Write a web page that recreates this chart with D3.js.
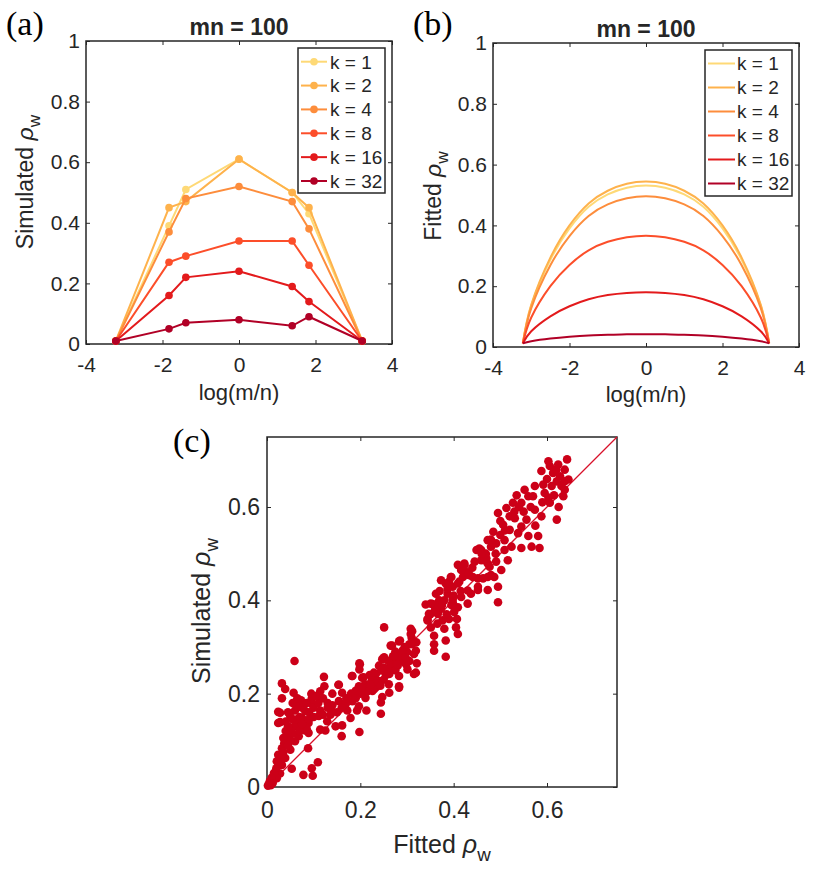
<!DOCTYPE html>
<html>
<head>
<meta charset="utf-8">
<script src="https://cdn.jsdelivr.net/npm/d3@7"></script>
<style>
body { margin: 0; background: #fff; }
svg { display: block; }
text { font-family: "Liberation Sans", Arial, sans-serif; fill: #262626; }
</style>
</head>
<body>
<svg id="fig" width="831" height="870"></svg>
<script>
// ---- data ----
var logRatio = [-3.22, -1.83, -1.39, 0, 1.39, 1.83, 3.22];
var kLabels = ["k = 1", "k = 2", "k = 4", "k = 8", "k = 16", "k = 32"];
var kColors = ["#fed976", "#feb24c", "#fd8d3c", "#fc4e2a", "#e31a1c", "#b10026"];

// (a) simulated rho_w
var simK1  = [0.01, 0.39, 0.51, 0.61, 0.50, 0.43, 0.01];
var simK2  = [0.01, 0.45, 0.47, 0.61, 0.50, 0.45, 0.01];
var simK4  = [0.01, 0.37, 0.48, 0.52, 0.47, 0.38, 0.01];
var simK8  = [0.01, 0.27, 0.29, 0.34, 0.34, 0.26, 0.01];
var simK16 = [0.01, 0.16, 0.22, 0.24, 0.19, 0.14, 0.01];
var simK32 = [0.01, 0.05, 0.07, 0.08, 0.06, 0.09, 0.01];
var simSeries = [simK1, simK2, simK4, simK8, simK16, simK32];

// (b) fitted rho_w, read at these log(m/n) values
var fitGrid = [-3.22, -3, -2.5, -2, -1.5, -1, -0.5, 0, 0.5, 1, 1.5, 2, 2.5, 3, 3.22];
var fitK1  = [0.012, 0.136, 0.287, 0.390, 0.461, 0.502, 0.524, 0.531, 0.524, 0.502, 0.461, 0.390, 0.287, 0.136, 0.012];
var fitK2  = [0.012, 0.139, 0.294, 0.400, 0.472, 0.514, 0.537, 0.544, 0.537, 0.514, 0.472, 0.400, 0.294, 0.139, 0.012];
var fitK4  = [0.012, 0.128, 0.269, 0.365, 0.431, 0.469, 0.489, 0.496, 0.489, 0.469, 0.431, 0.365, 0.269, 0.128, 0.012];
var fitK8  = [0.012, 0.097, 0.200, 0.270, 0.318, 0.346, 0.361, 0.366, 0.361, 0.346, 0.318, 0.270, 0.200, 0.097, 0.012];
var fitK16 = [0.012, 0.052, 0.101, 0.134, 0.157, 0.171, 0.178, 0.180, 0.178, 0.171, 0.157, 0.134, 0.101, 0.052, 0.012];
var fitK32 = [0.012, 0.019, 0.028, 0.034, 0.038, 0.040, 0.042, 0.042, 0.042, 0.040, 0.038, 0.034, 0.028, 0.019, 0.012];
var fitSeries = [fitK1, fitK2, fitK4, fitK8, fitK16, fitK32];

var logTicks = [-4, -2, 0, 2, 4];
var rhoTicks = [0, 0.2, 0.4, 0.6, 0.8, 1];
var cTicks = [0, 0.2, 0.4, 0.6];

// (c) [fitted, simulated] pairs
var fitSim = [
  [0.251,0.342],[0.311,0.334],[0.344,0.357],[0.265,0.303],[0.283,0.312],[0.305,0.306],[0.319,0.292],[0.059,0.270],
  [0.198,0.265],[0.251,0.278],[0.276,0.270],[0.298,0.263],[0.319,0.245],[0.183,0.238],[0.204,0.234],[0.233,0.242],
  [0.262,0.242],[0.122,0.236],[0.032,0.222],[0.154,0.219],[0.123,0.216],[0.114,0.205],[0.197,0.216],[0.219,0.220],
  [0.240,0.227],[0.283,0.216],[0.039,0.210],[0.057,0.202],[0.161,0.202],[0.190,0.206],[0.226,0.206],[0.262,0.202],
  [0.032,0.190],[0.073,0.186],[0.096,0.190],[0.154,0.184],[0.183,0.184],[0.211,0.191],[0.247,0.193],[0.066,0.176],
  [0.096,0.178],[0.168,0.177],[0.197,0.173],[0.244,0.181],[0.024,0.161],[0.060,0.164],[0.082,0.163],[0.114,0.164],
  [0.139,0.163],[0.172,0.164],[0.193,0.164],[0.213,0.164],[0.244,0.157],[0.050,0.151],[0.075,0.148],[0.111,0.152],
  [0.136,0.155],[0.179,0.148],[0.024,0.137],[0.068,0.141],[0.089,0.137],[0.129,0.141],[0.147,0.130],[0.161,0.132],
  [0.053,0.127],[0.082,0.121],[0.114,0.123],[0.125,0.121],[0.198,0.118],[0.042,0.109],[0.068,0.109],[0.089,0.116],
  [0.160,0.109],[0.037,0.094],[0.060,0.098],[0.032,0.083],[0.050,0.080],[0.088,0.083],[0.024,0.069],[0.039,0.062],
  [0.021,0.055],[0.032,0.047],[0.109,0.053],[0.096,0.040],[0.053,0.039],[0.028,0.029],[0.017,0.022],[0.078,0.026],
  [0.098,0.024],[0.006,0.012],[0.002,0.003],[0.014,0.015],[0.021,0.019],[0.040,0.120],[0.050,0.100],[0.060,0.130],
  [0.070,0.150],[0.080,0.140],[0.045,0.090],[0.055,0.115],[0.065,0.145],[0.035,0.075],[0.030,0.060],[0.025,0.050],
  [0.020,0.040],[0.015,0.030],[0.010,0.020],[0.090,0.160],[0.100,0.170],[0.110,0.180],[0.075,0.170],[0.085,0.125],
  [0.028,0.159],[0.028,0.139],[0.220,0.240],[0.240,0.260],[0.260,0.250],[0.270,0.280],[0.250,0.230],[0.230,0.210],
  [0.210,0.220],[0.280,0.260],[0.290,0.270],[0.300,0.290],[0.260,0.270],[0.200,0.200],[0.004,0.006],[0.008,0.004],
  [0.012,0.008],
  [0.045,0.160],[0.055,0.180],[0.065,0.190],[0.085,0.180],[0.095,0.200],[0.105,0.195],[0.120,0.190],[0.130,0.180],
  [0.140,0.175],[0.035,0.105],[0.045,0.130],[0.055,0.145],[0.040,0.140],[0.070,0.120],[0.075,0.135],[0.090,0.145],
  [0.100,0.150],[0.120,0.155],[0.130,0.170],[0.150,0.160],[0.160,0.170],[0.170,0.190],[0.180,0.200],[0.190,0.190],
  [0.140,0.200],[0.215,0.205],[0.235,0.215],[0.255,0.240],[0.265,0.260],[0.275,0.250],[0.285,0.280],[0.295,0.300],
  [0.305,0.270],[0.245,0.250],[0.225,0.230],[0.275,0.290],[0.310,0.320],[0.320,0.310],
  [0.153,0.219],[0.182,0.238],[0.199,0.263],[0.198,0.252],[0.207,0.235],[0.229,0.245],[0.236,0.227],[0.247,0.274],
  [0.250,0.256],[0.261,0.245],[0.268,0.303],[0.272,0.281],[0.279,0.263],[0.283,0.238],[0.285,0.314],[0.290,0.292],
  [0.297,0.278],[0.301,0.252],[0.308,0.328],[0.311,0.306],[0.315,0.285],[0.315,0.242],[0.321,0.265],[0.308,0.339],
  [0.243,0.217],[0.203,0.213],[0.221,0.220],[0.261,0.220],[0.283,0.213],[0.340,0.391],[0.347,0.371],[0.344,0.360],
  [0.351,0.342],[0.358,0.324],[0.358,0.306],[0.358,0.292],[0.369,0.400],[0.373,0.382],[0.376,0.357],[0.380,0.339],
  [0.383,0.314],[0.383,0.279],[0.383,0.436],[0.387,0.414],[0.394,0.450],[0.398,0.429],[0.398,0.396],[0.401,0.375],
  [0.405,0.342],[0.409,0.328],[0.407,0.360],[0.412,0.440],[0.416,0.407],[0.409,0.385],[0.362,0.389],[0.409,0.476],
  [0.423,0.479],[0.434,0.454],[0.437,0.414],[0.452,0.447],[0.452,0.422],[0.455,0.511],[0.459,0.486],[0.469,0.500],
  [0.473,0.479],[0.473,0.422],[0.480,0.454],[0.491,0.522],[0.495,0.429],[0.495,0.396],[0.355,0.392],[0.366,0.371],
  [0.365,0.350],[0.370,0.420],[0.390,0.360],[0.390,0.440],[0.400,0.410],[0.360,0.380],[0.375,0.390],[0.385,0.370],
  [0.395,0.390],[0.350,0.370],[0.415,0.420],[0.420,0.450],[0.430,0.460],[0.440,0.470],
  [0.351,0.393],[0.362,0.414],[0.380,0.400],[0.387,0.425],[0.395,0.450],[0.398,0.403],[0.409,0.436],[0.416,0.465],
  [0.430,0.421],[0.423,0.475],[0.441,0.450],[0.445,0.483],[0.449,0.508],[0.452,0.429],[0.463,0.447],[0.459,0.508],
  [0.466,0.486],[0.473,0.529],[0.477,0.472],[0.480,0.515],[0.485,0.547],[0.487,0.450],[0.495,0.587],[0.502,0.465],
  [0.506,0.562],[0.509,0.529],[0.513,0.598],[0.516,0.486],[0.520,0.551],[0.524,0.515],[0.527,0.609],[0.531,0.576],
  [0.538,0.544],[0.545,0.609],[0.545,0.512],[0.552,0.637],[0.556,0.573],[0.560,0.538],[0.567,0.515],[0.570,0.623],
  [0.574,0.594],[0.574,0.645],[0.581,0.538],[0.584,0.512],[0.588,0.580],[0.588,0.677],[0.592,0.648],[0.603,0.698],
  [0.606,0.688],[0.603,0.620],[0.606,0.609],[0.610,0.645],[0.621,0.573],[0.624,0.691],[0.628,0.666],[0.631,0.645],
  [0.635,0.623],[0.638,0.655],[0.643,0.702],[0.638,0.680],[0.646,0.659],[0.638,0.637],[0.621,0.655],[0.613,0.673],
  [0.595,0.630],[0.560,0.623],[0.545,0.558],[0.509,0.508],[0.491,0.483],[0.473,0.450],[0.373,0.443],[0.401,0.386],
  [0.430,0.393],
  [0.470,0.490],[0.490,0.500],[0.500,0.540],[0.510,0.550],[0.520,0.580],[0.530,0.590],[0.540,0.600],[0.550,0.590],
  [0.500,0.570],[0.460,0.500],[0.480,0.530],[0.535,0.625],[0.565,0.600],[0.575,0.560],[0.590,0.610],[0.600,0.660],
  [0.615,0.625],[0.625,0.600],[0.620,0.680]
];

// ---- drawing ----
var svg = d3.select("#fig");
var ink = "#262626";
var fmt = function (d) { return String(d); };

function styleAxis(sel, fs) {
  sel.select(".domain").remove();
  sel.selectAll("line").attr("stroke", ink).attr("stroke-width", 1);
  sel.selectAll("text").attr("fill", ink)
    .style("font-size", fs + "px")
    .style("font-family", '"Liberation Sans", Arial, sans-serif');
}

function frame(box, x, y, xt, yt, fs, xPad, yPad) {
  var g = svg.append("g");
  g.append("g").attr("transform", "translate(0," + box.bottom + ")")
    .call(d3.axisBottom(x).tickValues(xt).tickSize(-4).tickPadding(xPad).tickFormat(fmt))
    .call(styleAxis, fs);
  g.append("g").attr("transform", "translate(0," + box.top + ")")
    .call(d3.axisTop(x).tickValues(xt).tickSize(-4).tickFormat(""))
    .call(styleAxis, fs);
  g.append("g").attr("transform", "translate(" + box.left + ",0)")
    .call(d3.axisLeft(y).tickValues(yt).tickSize(-4).tickPadding(yPad).tickFormat(fmt))
    .call(styleAxis, fs);
  g.append("g").attr("transform", "translate(" + box.right + ",0)")
    .call(d3.axisRight(y).tickValues(yt).tickSize(-4).tickFormat(""))
    .call(styleAxis, fs);
  g.append("rect")
    .attr("x", box.left).attr("y", box.top)
    .attr("width", box.right - box.left).attr("height", box.bottom - box.top)
    .attr("fill", "none").attr("stroke", ink).attr("stroke-width", 1.5);
}

// label with italic rho and subscript w
function rhoText(t, prefix, fs) {
  t.style("font-size", fs + "px");
  t.append("tspan").text(prefix);
  t.append("tspan").style("font-style", "italic").text("\u03C1");
  t.append("tspan").style("font-size", (fs * 0.75) + "px").attr("dy", fs * 0.32).text("w");
}

function panelLetter(x, y, s) {
  svg.append("text").attr("x", x).attr("y", y).text(s)
    .style("font-family", '"Liberation Serif", "Times New Roman", serif')
    .style("font-size", "34px").style("fill", "#000");
}

function legend(box, rowY0, rowStep, lx1, lx2, tx, withMarkers) {
  var g = svg.append("g");
  g.append("rect").attr("x", box.x).attr("y", box.y).attr("width", box.w).attr("height", box.h)
    .attr("fill", "#fff").attr("stroke", ink).attr("stroke-width", 1.5);
  kLabels.forEach(function (lab, i) {
    var yy = rowY0 + i * rowStep;
    g.append("line").attr("x1", lx1).attr("x2", lx2).attr("y1", yy).attr("y2", yy)
      .attr("stroke", kColors[i]).attr("stroke-width", 2);
    if (withMarkers) {
      g.append("circle").attr("cx", (lx1 + lx2) / 2).attr("cy", yy).attr("r", 3.8).attr("fill", kColors[i]);
    }
    g.append("text").attr("x", tx).attr("y", yy).attr("dy", "0.36em").text(lab).style("font-size", "19px");
  });
}

// ----- panel (a) -----
var boxA = { left: 86, right: 392, top: 41, bottom: 344 };
var xA = d3.scaleLinear().domain([-4, 4]).range([boxA.left, boxA.right]);
var yA = d3.scaleLinear().domain([0, 1]).range([boxA.bottom, boxA.top]);
frame(boxA, xA, yA, logTicks, rhoTicks, 21, 13, 6);

var lineA = d3.line().x(function (d, i) { return xA(logRatio[i]); }).y(function (d) { return yA(d); });
simSeries.forEach(function (s, k) {
  var g = svg.append("g");
  g.append("path").attr("d", lineA(s)).attr("fill", "none").attr("stroke", kColors[k]).attr("stroke-width", 2);
  g.selectAll("circle").data(s).enter().append("circle")
    .attr("cx", function (d, i) { return xA(logRatio[i]); })
    .attr("cy", function (d) { return yA(d); })
    .attr("r", 3.8).attr("fill", kColors[k]);
});
legend({ x: 298, y: 48, w: 87, h: 145 }, 61.7, 23.86, 301, 327, 330, true);

svg.append("text").attr("x", 239).attr("y", 35).attr("text-anchor", "middle")
  .style("font-size", "23px").style("font-weight", "bold").text("mn = 100");
svg.append("text").attr("x", 239).attr("y", 400).attr("text-anchor", "middle")
  .style("font-size", "22px").text("log(m/n)");
svg.append("text").attr("transform", "translate(33,182) rotate(-90)").attr("text-anchor", "middle")
  .call(rhoText, "Simulated ", 23);
panelLetter(6, 35, "(a)");

// ----- panel (b) -----
var boxB = { left: 493, right: 799, top: 43, bottom: 347 };
var xB = d3.scaleLinear().domain([-4, 4]).range([boxB.left, boxB.right]);
var yB = d3.scaleLinear().domain([0, 1]).range([boxB.bottom, boxB.top]);
frame(boxB, xB, yB, logTicks, rhoTicks, 21, 13, 6);

var lineB = d3.line().curve(d3.curveNatural)
  .x(function (d, i) { return xB(fitGrid[i]); }).y(function (d) { return yB(d); });
fitSeries.forEach(function (s, k) {
  svg.append("path").attr("d", lineB(s)).attr("fill", "none").attr("stroke", kColors[k]).attr("stroke-width", 2);
});
legend({ x: 705, y: 50, w: 87, h: 146 }, 63.5, 24, 708, 735, 737, false);

svg.append("text").attr("x", 646).attr("y", 37).attr("text-anchor", "middle")
  .style("font-size", "23px").style("font-weight", "bold").text("mn = 100");
svg.append("text").attr("x", 646).attr("y", 402).attr("text-anchor", "middle")
  .style("font-size", "22px").text("log(m/n)");
svg.append("text").attr("transform", "translate(441,196) rotate(-90)").attr("text-anchor", "middle")
  .call(rhoText, "Fitted ", 23);
panelLetter(413, 35, "(b)");

// ----- panel (c) -----
var boxC = { left: 267, right: 617, top: 437, bottom: 787 };
var xC = d3.scaleLinear().domain([0, 0.75]).range([boxC.left, boxC.right]);
var yC = d3.scaleLinear().domain([0, 0.75]).range([boxC.bottom, boxC.top]);
frame(boxC, xC, yC, cTicks, cTicks, 23, 15, 7);

var red = "#cc0018";
svg.append("line")
  .attr("x1", xC(0)).attr("y1", yC(0)).attr("x2", xC(0.75)).attr("y2", yC(0.75))
  .attr("stroke", "#d8102a").attr("stroke-width", 1.3);
svg.append("g").selectAll("circle").data(fitSim).enter().append("circle")
  .attr("cx", function (d) { return xC(d[0]); })
  .attr("cy", function (d) { return yC(d[1]); })
  .attr("r", 4.3).attr("fill", red);

svg.append("text").attr("x", 442).attr("y", 853).attr("text-anchor", "middle")
  .call(rhoText, "Fitted ", 25);
svg.append("text").attr("transform", "translate(210,611) rotate(-90)").attr("text-anchor", "middle")
  .call(rhoText, "Simulated ", 25);
panelLetter(173, 452, "(c)");
</script>
</body>
</html>
